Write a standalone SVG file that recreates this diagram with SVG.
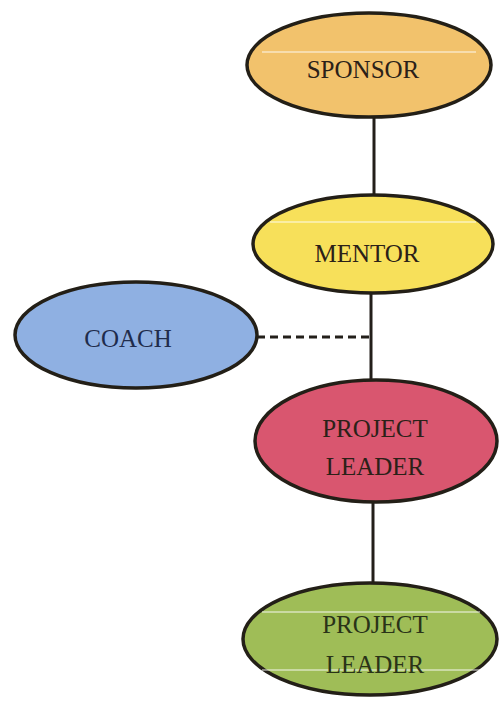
<svg xmlns="http://www.w3.org/2000/svg" width="500" height="703" viewBox="0 0 500 703">
<style>
.node{stroke:#231f17;stroke-width:3.5}
.lbl{font-family:"Liberation Serif","Times New Roman",serif;font-size:25px;text-anchor:middle;fill:#2b2118}
.conn{stroke:#231f1a;stroke-width:3;fill:none}
.hl{stroke:#ffffff;stroke-width:2;opacity:0.45}
</style>
<rect width="500" height="703" fill="#ffffff"/>
<g id="connectors">
<line class="conn" x1="374" y1="117" x2="374" y2="196"/>
<line class="conn" x1="371" y1="292" x2="371" y2="381"/>
<line class="conn" x1="373" y1="501" x2="373" y2="584"/>
<line class="conn" x1="257" y1="337" x2="371" y2="337" stroke-dasharray="8,5" stroke-width="2"/>
</g>
<g id="sponsor">
<ellipse class="node" cx="369" cy="65" rx="122" ry="52" fill="#f2c26c"/>
<line class="hl" x1="262" y1="52" x2="476" y2="52"/>
<text class="lbl" x="363" y="78">SPONSOR</text>
</g>
<g id="mentor">
<ellipse class="node" cx="373" cy="244" rx="120" ry="49" fill="#f7e05a"/>
<line class="hl" x1="270" y1="222" x2="476" y2="222"/>
<text class="lbl" x="367" y="262">MENTOR</text>
</g>
<g id="coach">
<ellipse class="node" cx="136" cy="335" rx="121" ry="53" fill="#8fb0e2"/>
<text class="lbl" x="128" y="347" style="fill:#1f2c4c">COACH</text>
</g>
<g id="project-leader-1">
<ellipse class="node" cx="376" cy="441" rx="121" ry="61" fill="#d9566f"/>
<text class="lbl" x="375" y="437">PROJECT</text>
<text class="lbl" x="375" y="475">LEADER</text>
</g>
<g id="project-leader-2">
<ellipse class="node" cx="370" cy="639" rx="127" ry="56" fill="#9fbd57"/>
<line class="hl" x1="262" y1="612" x2="480" y2="612"/>
<line class="hl" x1="262" y1="670" x2="480" y2="670"/>
<text class="lbl" x="375" y="633" style="fill:#2a3318">PROJECT</text>
<text class="lbl" x="375" y="673" style="fill:#2a3318">LEADER</text>
</g>
</svg>
